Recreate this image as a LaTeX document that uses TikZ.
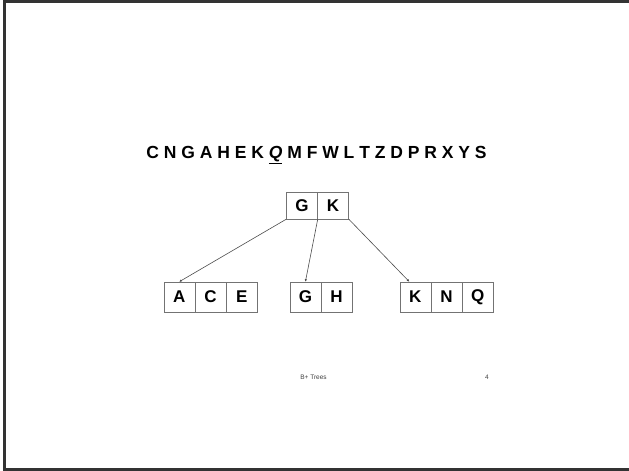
\documentclass[tikz,border=0pt]{standalone}
\usepackage{fontspec}
\setmainfont{Liberation Sans}
\usetikzlibrary{matrix,arrows.meta}

\tikzset{
	keyrow/.style={matrix of nodes, column sep=-0.4pt, nodes={draw=black!55, line width=0.6pt, minimum width=31pt, minimum height=#1, anchor=center, inner sep=0pt, font=\fontsize{17}{18}\selectfont\bfseries}},
	child/.style={draw=black!70, line width=0.6pt, -{Latex[length=2.5pt,width=2.5pt]}}
}

\begin{document}
\begin{tikzpicture}[x=1pt, y=-1pt]
	\useasboundingbox (0,0) rectangle (629,471);
	\draw[black!80, line width=2.6pt] (629,1.3) -- (4.5,1.3) -- (4.5,469.5) -- (629,469.5);
	% insertion sequence
	\node[anchor=base, font=\fontsize{17.5}{19}\selectfont\bfseries] (seq) at (316.5,158) {C N G A H E K \underline{\textit{Q}} M F W L T Z D P R X Y S};
	% root
	\matrix (gk) [keyrow=27pt] at (317.5,205.5) {
		G & K \\
	};
	% leaves
	\matrix (ace) [keyrow=30pt] at (210.5,297) {
		A & C & E \\
	};
	\matrix (gh) [keyrow=30pt] at (321,297) {
		G & H \\
	};
	\matrix (knq) [keyrow=30pt] at (446.5,297) {
		K & N & Q \\
	};
	\draw[child] (gk-1-1.south west) -- (ace-1-1.north);
	\draw[child] (gk-1-1.south east) -- (gh-1-1.north);
	\draw[child] (gk-1-2.south east) -- ([xshift=-6pt]knq-1-1.north);
	\node[font=\fontsize{6.5}{8}\selectfont, text=black!75] (title) at (313.5,377) {B+ Trees};
	\node[font=\fontsize{6.5}{8}\selectfont, text=black!75] (page) at (487,377) {4};
\end{tikzpicture}
\end{document}
